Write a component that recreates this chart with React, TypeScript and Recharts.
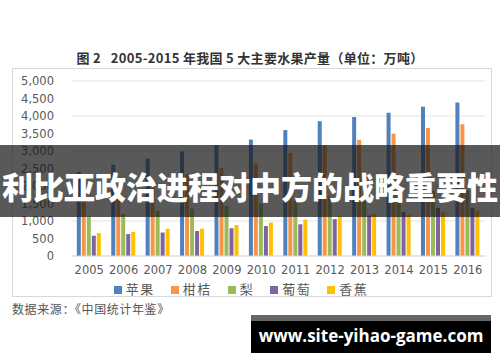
import React from 'react';
import { BarChart, Bar, XAxis, YAxis, CartesianGrid, Legend } from 'recharts';

const years = ['2005', '2006', '2007', '2008', '2009', '2010', '2011', '2012', '2013', '2014', '2015', '2016'];
const apple = [2401, 2606, 2786, 2985, 3168, 3326, 3598, 3849, 3968, 4092, 4261, 4388];
const citrus = [1592, 1790, 2058, 2331, 2521, 2645, 2944, 3168, 3321, 3493, 3660, 3765];
const pear = [1132, 1199, 1290, 1354, 1426, 1506, 1580, 1707, 1731, 1796, 1870, 1871];
const grape = [579, 627, 670, 715, 794, 855, 907, 1054, 1155, 1255, 1367, 1375];
const banana = [652, 690, 779, 783, 884, 956, 1040, 1156, 1207, 1179, 1247, 1299];
const yTicks = [0, 500, 1000, 1500, 2000, 2500, 3000, 3500, 4000, 4500, 5000];

const series = [
  { key: '苹果', values: apple, color: '#4F81BD' },
  { key: '柑桔', values: citrus, color: '#F79646' },
  { key: '梨', values: pear, color: '#9BBB59' },
  { key: '葡萄', values: grape, color: '#8064A2' },
  { key: '香蕉', values: banana, color: '#FFC000' },
];

const data = years.map((y, i) => {
  const row: Record<string, string | number> = { year: y };
  series.forEach(s => { row[s.key] = s.values[i]; });
  return row;
});

const tickStyle = { fontSize: 11.5, fill: '#595959', fontFamily: 'DejaVu Sans' };

export default function App() {
  return (
    <div style={{ position: 'absolute', left: 0, top: 0, width: 500, height: 362, background: '#fff', overflow: 'hidden' }}>
      <div style={{
        position: 'absolute', left: 0, top: 49, width: 500, textAlign: 'center',
        fontFamily: '"Noto Sans CJK SC"', fontWeight: 700, fontSize: 13, color: '#333', lineHeight: '18px',
        whiteSpace: 'pre', letterSpacing: 0.3,
      }}>
        {'图 2   2005-2015 年我国 5 大主要水果产量（单位：万吨）'}
      </div>

      <div style={{ position: 'absolute', left: 12, top: 68, width: 480, height: 229, border: '1px solid #d9d9d9', boxSizing: 'border-box' }}>
        <BarChart width={478} height={227} data={data} margin={{ top: 12, right: 6, left: 0, bottom: 0 }}
          barCategoryGap="14%" barGap={1}>
          <CartesianGrid vertical={false} stroke="#e4e4e4" />
          <XAxis dataKey="year" height={22} axisLine={{ stroke: '#d9d9d9' }} tickLine={false} tickMargin={4}
            tick={tickStyle} interval={0} />
          <YAxis width={59} domain={[0, 5000]} ticks={yTicks} axisLine={false} tickLine={false} tickMargin={12}
            tick={tickStyle} tickFormatter={(v: number) => v.toLocaleString('en-US')} />
          <Legend verticalAlign="bottom" iconType="square" iconSize={8}
            itemSorter={(item: any) => series.findIndex(s => s.key === item.value)}
            wrapperStyle={{ height: 18, lineHeight: '18px', fontFamily: '"Noto Sans CJK SC"' }}
            formatter={(value: string) => (
              <span style={{ color: '#595959', fontSize: 13, letterSpacing: 1.5, marginRight: 6 }}>{value}</span>
            )} />
          {series.map(s => (
            <Bar key={s.key} dataKey={s.key} fill={s.color} isAnimationActive={false} />
          ))}
        </BarChart>
      </div>

      <div style={{
        position: 'absolute', left: 12, top: 301, fontFamily: '"Noto Sans CJK SC"', fontSize: 12,
        letterSpacing: 0.6, color: '#555', lineHeight: '16px',
      }}>
        数据来源：《中国统计年鉴》
      </div>

      <div style={{ position: 'absolute', left: 0, top: 145, width: 500, height: 72, background: 'rgba(25,25,25,0.72)' }} />
      <div style={{
        position: 'absolute', left: 0, top: 168, width: 500, height: 36, lineHeight: '36px', textAlign: 'center',
        color: '#fff', fontFamily: '"Noto Sans CJK SC"', fontWeight: 900, fontSize: 31, whiteSpace: 'nowrap',
      }}>
        利比亚政治进程对中方的战略重要性
      </div>

      <div style={{ position: 'absolute', left: 251, top: 315, width: 240, height: 38, background: '#000' }}>
        <div style={{ height: 6, background: '#666' }} />
        <div style={{
          textAlign: 'center', color: '#fff', fontFamily: '"Open Sans"', fontWeight: 700, fontSize: 17,
          lineHeight: '30px',
        }}>
          www.site-yihao-game.com
        </div>
      </div>
    </div>
  );
}
